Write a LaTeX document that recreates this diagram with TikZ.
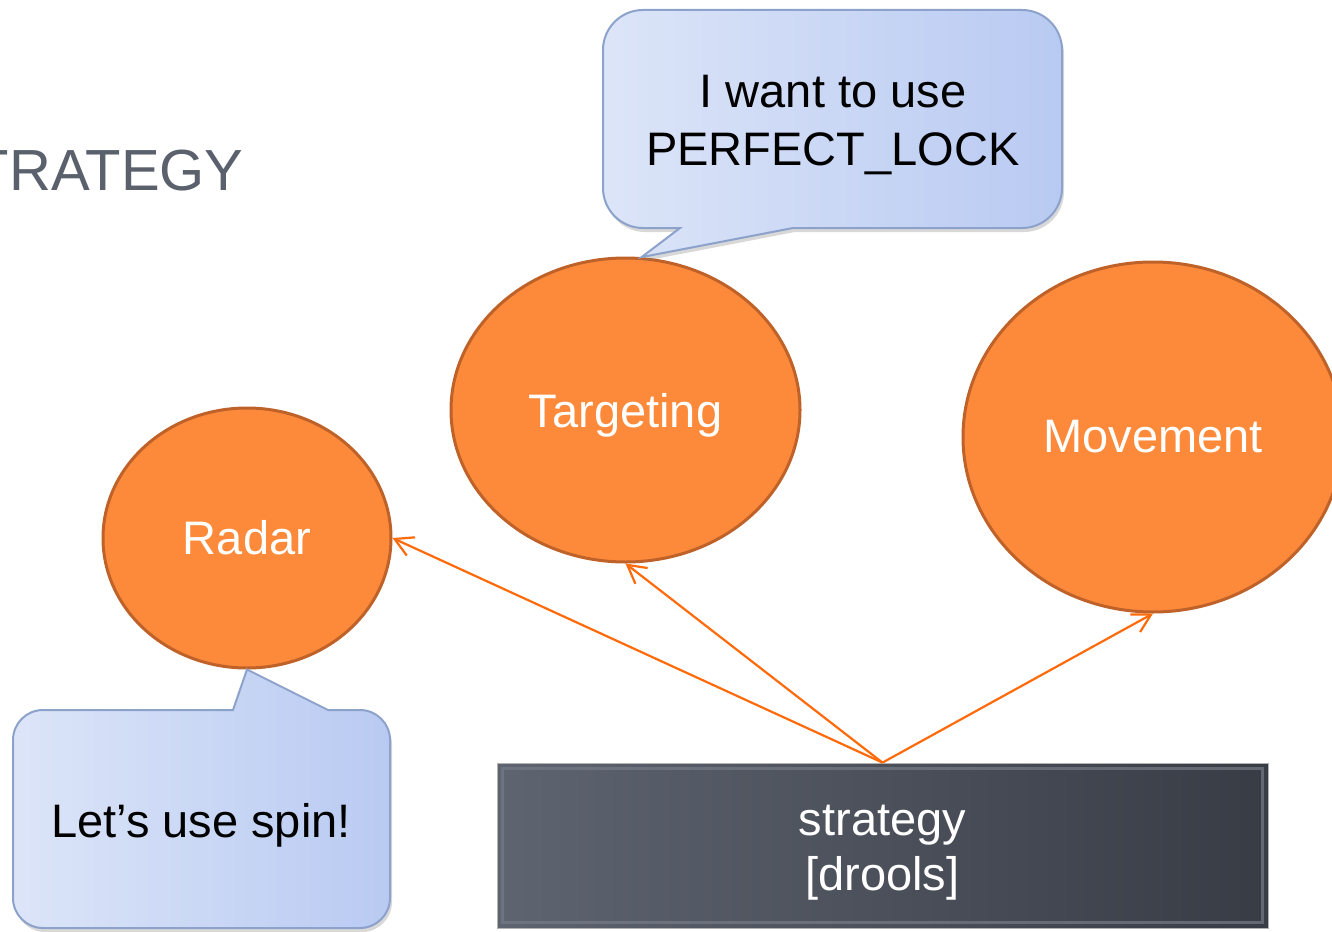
\documentclass[tikz,border=0pt]{standalone}
\usepackage{fontspec}
\setmainfont{Liberation Sans}
\usetikzlibrary{arrows.meta,shadows,shapes.geometric}
\definecolor{orfill}{HTML}{FD8A3A}
\definecolor{orline}{HTML}{BF622A}
\definecolor{arr}{HTML}{FF6A0A}
\definecolor{cbL}{HTML}{DCE5F8}
\definecolor{cbR}{HTML}{B9CAF2}
\definecolor{cbline}{HTML}{8DA2CB}
\definecolor{dkL}{HTML}{5E6470}
\definecolor{dkR}{HTML}{383C45}
\definecolor{titlec}{HTML}{5A606C}
\definecolor{bevelc}{HTML}{767B86}
\tikzset{
  blob/.style={ellipse, fill=orfill, draw=orline, line width=1.5pt, inner sep=0pt,
    text=white, font=\fontsize{23.5}{28}\selectfont},
  link/.style={draw=arr, line width=1.1pt, -{Straight Barb[length=9pt,width=10pt]}},
  bubble/.style={draw=cbline, line width=1pt, left color=cbL, right color=cbR,
    drop shadow={shadow xshift=1pt, shadow yshift=-2pt, opacity=0.3}},
  btext/.style={font=\fontsize{23.5}{29}\selectfont, align=center, text=black, inner sep=0pt},
  stratbox/.style={rectangle, minimum width=385.5pt, minimum height=82.5pt, inner sep=0pt,
    left color=dkL, right color=dkR, draw=gray!60, line width=0.4pt},
  stext/.style={text=white, align=center, inner sep=0pt, font=\fontsize{23.5}{27.5}\selectfont},
  bevel/.style={draw=bevelc, line width=1.2pt, opacity=0.7},
  titlestyle/.style={text=titlec, font=\fontsize{29}{34}\selectfont, inner sep=0pt}
}
\begin{document}
\begin{tikzpicture}[x=0.5pt,y=-0.5pt]
\useasboundingbox (0,0) rectangle (1332,931);
\fill[white] (0,0) rectangle (1332,931);

\node[titlestyle, anchor=base east] (ttl) at (244,190) {STRATEGY};

\node[blob, minimum width=144pt, minimum height=130pt] (radar) at (247,538) {Radar};
\node[blob, minimum width=174.5pt, minimum height=152pt] (targ) at (625.5,410)
  {\raisebox{-2.5pt}[\height][\depth]{Targeting}};
\node[blob, minimum width=190pt, minimum height=175pt] (move) at (1153,437) {Movement};

\node[stratbox] (strat) at (882.5,845.5) {};
\draw[bevel] ([shift={(3pt,-3pt)}]strat.north west) rectangle ([shift={(-3pt,3pt)}]strat.south east);
\node[stext] (stxt) at (882.5,853) {strategy\\{}[drools]};

\draw[link] (strat.north) -- (radar.east);
\draw[link] (strat.north) -- (targ.south);
\draw[link] (strat.north) -- (move.south);

\path[bubble] (603,120) [rounded corners=20pt] -- (603,10) -- (1062,10) -- (1062,228)
  [sharp corners] -- (793,228) -- (targ.84) -- (680,228) [rounded corners=20pt] -- (603,228) -- cycle;
\node[btext] (t1) at (833,125) {I want to use\\PERFECT\_LOCK};

\path[bubble] (13,800) [rounded corners=15pt] -- (13,710) [sharp corners] -- (233,710)
  -- (radar.south) -- (328,710) [rounded corners=15pt] -- (390,710) -- (390,928) -- (13,928) -- cycle;
\node[btext, anchor=base] (t2) at (201,837) {Let’s use spin!};
\end{tikzpicture}
\end{document}
